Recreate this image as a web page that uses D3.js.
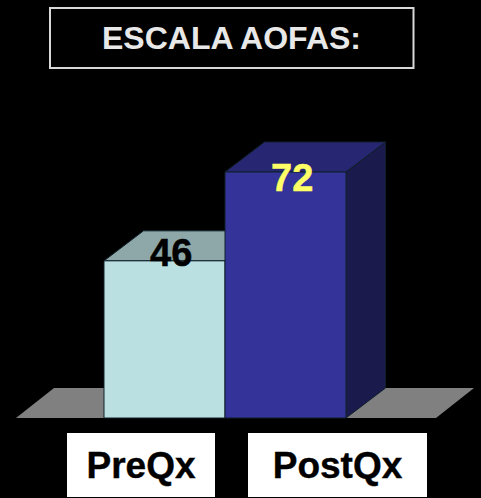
<!DOCTYPE html>
<html>
<head>
<meta charset="utf-8">
<script src="https://cdnjs.cloudflare.com/ajax/libs/d3/7.8.5/d3.min.js"></script>
<style>
  html, body { margin: 0; padding: 0; background: #000; overflow: hidden; }
  svg { display: block; }
  text { font-family: "Liberation Sans", Arial, sans-serif; font-weight: bold; text-anchor: middle; }
</style>
</head>
<body>
<svg id="chart" width="481" height="498"></svg>
<script>
const title = "ESCALA AOFAS:";
const categories = ["PreQx", "PostQx"];
const values = [46, 72];
const frontColors = ["#bae0e2", "#333399"];
const topColors = ["#8ea8a9", "#262673"];
const sideColors = ["#5d7071", "#1a1a4d"];
const valueColors = ["#000000", "#ffff66"];

const svg = d3.select("#chart");
const depth = {x: 39.5, y: -30};

const xScale = d3.scaleBand().domain(categories).range([16, 436])
    .paddingInner(0).paddingOuter(89 / 121).align(88 / 178);
const yScale = d3.scaleLinear().domain([0, 72]).range([418, 172]);
const y0 = yScale(0);
const line = d3.line();

// title box
svg.append("rect")
    .attr("x", 50).attr("y", 8)
    .attr("width", 363.5).attr("height", 60)
    .attr("fill", "none")
    .attr("stroke", "#d8d8d8")
    .attr("stroke-width", 2);
svg.append("text")
    .attr("x", 231.5).attr("y", 49)
    .attr("font-size", 32)
    .attr("fill", "#e8e8e8")
    .text(title);

// floor
const [fl, fr] = xScale.range();
svg.append("path")
    .attr("d", line([[fl, y0], [fl + depth.x - 1.5, y0 + depth.y], [fr + depth.x - 1.5, y0 + depth.y], [fr, y0]]) + "Z")
    .attr("fill", "#808080");

// bars, left to right so the next one covers the side face
const bars = svg.selectAll(".bar")
    .data(categories.map((c, i) => ({c, v: values[i], i})))
    .enter().append("g")
    .attr("class", "bar")
    .attr("stroke", "#10202a")
    .attr("stroke-width", 1)
    .attr("stroke-linejoin", "round");

bars.append("path")
    .attr("fill", d => sideColors[d.i])
    .attr("d", d => {
        const r = xScale(d.c) + xScale.bandwidth(), t = yScale(d.v);
        return line([[r, y0], [r, t], [r + depth.x, t + depth.y], [r + depth.x, y0 + depth.y]]) + "Z";
    });
bars.append("path")
    .attr("fill", d => topColors[d.i])
    .attr("d", d => {
        const l = xScale(d.c), r = l + xScale.bandwidth(), t = yScale(d.v);
        return line([[l, t], [l + depth.x, t + depth.y], [r + depth.x, t + depth.y], [r, t]]) + "Z";
    });
bars.append("rect")
    .attr("x", d => xScale(d.c))
    .attr("y", d => yScale(d.v))
    .attr("width", xScale.bandwidth())
    .attr("height", d => y0 - yScale(d.v))
    .attr("fill", d => frontColors[d.i]);

// value labels: the short bar's label rides up over its top face
const labelDrop = [5.5, 18.5];
svg.selectAll(".value")
    .data(values)
    .enter().append("text")
    .attr("class", "value")
    .attr("x", (d, i) => xScale(categories[i]) + xScale.bandwidth() / 2 + 6.7)
    .attr("y", (d, i) => yScale(d) + labelDrop[i])
    .attr("font-size", 38)
    .attr("fill", (d, i) => valueColors[i])
    .attr("stroke", (d, i) => valueColors[i])
    .attr("stroke-width", 0.5)
    .text(d => d);

// category boxes sit apart from the bars
const boxX = [67, 248], boxW = [148, 179];
categories.forEach((c, i) => {
    svg.append("rect")
        .attr("x", boxX[i]).attr("y", 433)
        .attr("width", boxW[i]).attr("height", 64)
        .attr("fill", "#ffffff");
    svg.append("text")
        .attr("x", boxX[i] + boxW[i] / 2).attr("y", 478)
        .attr("font-size", 37)
        .attr("fill", "#000000")
        .attr("stroke", "#000000")
        .attr("stroke-width", 0.4)
        .text(c);
});
</script>
</body>
</html>
